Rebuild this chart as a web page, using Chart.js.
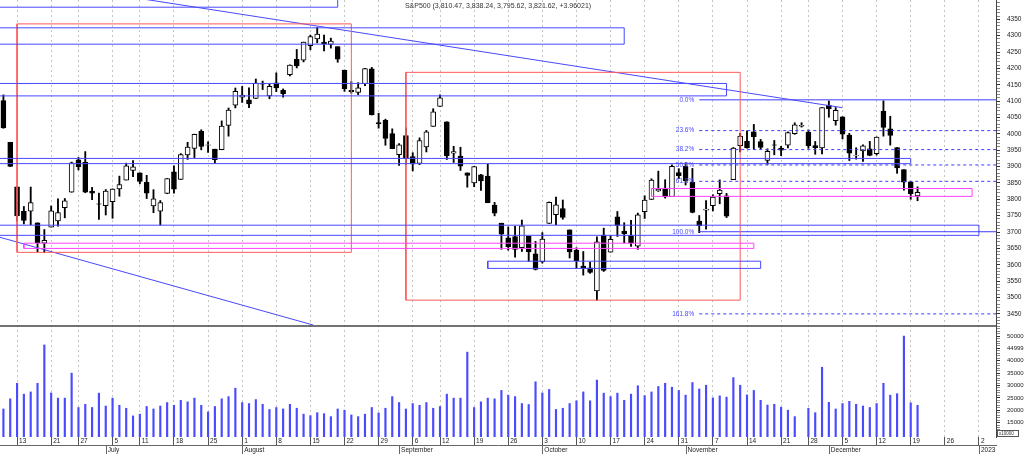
<!DOCTYPE html>
<html>
<head>
<meta charset="utf-8">
<title>S&amp;P500</title>
<script src="https://cdn.jsdelivr.net/npm/chart.js@4.4.1/dist/chart.umd.min.js"></script>
<style>
  html, body { margin: 0; padding: 0; background: #fff; overflow: hidden; }
</style>
</head>
<body>
<canvas id="spChart" width="1024" height="454"></canvas>
<script>
// trading days on the x axis (after 2022-12-20 these are empty future slots)
const dates = [
  "2022-06-09","2022-06-10",
  "2022-06-13","2022-06-14","2022-06-15","2022-06-16","2022-06-17",
  "2022-06-21","2022-06-22","2022-06-23","2022-06-24",
  "2022-06-27","2022-06-28","2022-06-29","2022-06-30","2022-07-01",
  "2022-07-05","2022-07-06","2022-07-07","2022-07-08",
  "2022-07-11","2022-07-12","2022-07-13","2022-07-14","2022-07-15",
  "2022-07-18","2022-07-19","2022-07-20","2022-07-21","2022-07-22",
  "2022-07-25","2022-07-26","2022-07-27","2022-07-28","2022-07-29",
  "2022-08-01","2022-08-02","2022-08-03","2022-08-04","2022-08-05",
  "2022-08-08","2022-08-09","2022-08-10","2022-08-11","2022-08-12",
  "2022-08-15","2022-08-16","2022-08-17","2022-08-18","2022-08-19",
  "2022-08-22","2022-08-23","2022-08-24","2022-08-25","2022-08-26",
  "2022-08-29","2022-08-30","2022-08-31","2022-09-01","2022-09-02",
  "2022-09-06","2022-09-07","2022-09-08","2022-09-09",
  "2022-09-12","2022-09-13","2022-09-14","2022-09-15","2022-09-16",
  "2022-09-19","2022-09-20","2022-09-21","2022-09-22","2022-09-23",
  "2022-09-26","2022-09-27","2022-09-28","2022-09-29","2022-09-30",
  "2022-10-03","2022-10-04","2022-10-05","2022-10-06","2022-10-07",
  "2022-10-10","2022-10-11","2022-10-12","2022-10-13","2022-10-14",
  "2022-10-17","2022-10-18","2022-10-19","2022-10-20","2022-10-21",
  "2022-10-24","2022-10-25","2022-10-26","2022-10-27","2022-10-28",
  "2022-10-31","2022-11-01","2022-11-02","2022-11-03","2022-11-04",
  "2022-11-07","2022-11-08","2022-11-09","2022-11-10","2022-11-11",
  "2022-11-14","2022-11-15","2022-11-16","2022-11-17","2022-11-18",
  "2022-11-21","2022-11-22","2022-11-23","2022-11-25",
  "2022-11-28","2022-11-29","2022-11-30","2022-12-01","2022-12-02",
  "2022-12-05","2022-12-06","2022-12-07","2022-12-08","2022-12-09",
  "2022-12-12","2022-12-13","2022-12-14","2022-12-15","2022-12-16",
  "2022-12-19","2022-12-20","2022-12-21","2022-12-22","2022-12-23",
  "2022-12-26","2022-12-27","2022-12-28","2022-12-29","2022-12-30",
  "2023-01-02","2023-01-03","2023-01-04"
];

const opens = [
  4101.65, 3974.39, 3838.15, 3763.52, 3764.05, 3728.18, 3665.90, 3715.31, 3733.89, 3774.71,
  3821.75, 3920.76, 3913.00, 3825.09, 3785.99, 3781.00, 3792.61, 3831.98, 3858.85, 3888.26,
  3880.94, 3851.95, 3779.67, 3763.99, 3818.00, 3883.79, 3860.73, 3935.32, 3955.47, 4007.77,
  3965.72, 3953.22, 3951.43, 4026.13, 4087.33, 4112.38, 4104.21, 4107.96, 4154.85, 4115.87,
  4155.93, 4133.11, 4181.02, 4227.40, 4225.02, 4269.37, 4290.46, 4280.40, 4273.13, 4266.31,
  4195.08, 4133.09, 4126.55, 4153.26, 4198.74, 4034.58, 4041.25, 4000.67, 3936.73, 3994.66,
  3930.89, 3909.43, 3959.94, 4022.94, 4083.67, 4037.12, 3940.73, 3932.41, 3880.95, 3849.91,
  3875.23, 3871.40, 3782.36, 3727.14, 3682.72, 3686.44, 3651.94, 3687.01, 3633.48, 3609.78,
  3726.46, 3753.25, 3771.97, 3706.74, 3644.79, 3595.86, 3590.83, 3520.37, 3690.41, 3638.65,
  3746.26, 3703.11, 3689.05, 3657.10, 3762.01, 3799.44, 3825.97, 3834.69, 3808.26, 3881.85,
  3901.79, 3852.90, 3733.25, 3766.98, 3780.71, 3817.02, 3810.94, 3859.89, 3963.72, 3977.97,
  4006.41, 3976.82, 3919.26, 3966.39, 3956.23, 3965.51, 4000.30, 4023.34, 4005.36, 3964.19,
  3957.18, 4087.14, 4040.17, 4052.02, 3996.63, 3933.28, 3947.79, 3954.17, 3939.29, 4069.38,
  4015.54, 3958.37, 3890.91, 3853.79, 3810.47
];
const highs = [
  4119.10, 3974.39, 3838.15, 3778.18, 3837.56, 3728.18, 3707.71, 3779.65, 3801.79, 3802.58,
  3913.65, 3927.72, 3945.86, 3836.50, 3818.99, 3829.82, 3832.19, 3870.91, 3910.63, 3918.50,
  3880.94, 3873.41, 3829.44, 3796.41, 3863.62, 3902.44, 3939.81, 3974.13, 3999.29, 4012.44,
  3975.30, 3953.22, 4039.56, 4078.95, 4140.15, 4144.95, 4140.47, 4167.66, 4161.29, 4151.58,
  4186.62, 4137.30, 4211.03, 4257.91, 4280.47, 4301.79, 4325.28, 4302.18, 4292.53, 4266.31,
  4195.08, 4159.77, 4156.56, 4200.54, 4203.04, 4062.99, 4044.98, 4015.37, 3970.23, 4018.43,
  3942.55, 3987.89, 4010.50, 4076.81, 4119.28, 4037.12, 3961.94, 3959.14, 3880.95, 3900.45,
  3876.01, 3907.07, 3790.68, 3727.14, 3715.67, 3717.53, 3736.74, 3687.01, 3671.44, 3698.35,
  3791.92, 3806.91, 3797.93, 3706.74, 3652.17, 3640.66, 3608.34, 3685.41, 3712.00, 3689.73,
  3762.79, 3728.58, 3736.00, 3757.89, 3810.74, 3862.85, 3886.15, 3859.95, 3905.42, 3893.73,
  3911.79, 3894.44, 3750.59, 3796.34, 3813.95, 3859.40, 3818.20, 3958.33, 4001.48, 4008.97,
  4028.84, 3983.09, 3954.33, 3979.89, 3962.00, 4005.88, 4033.78, 4034.02, 4012.27, 3976.77,
  4080.11, 4100.51, 4080.48, 4052.45, 4001.51, 3957.57, 3966.85, 3977.02, 3990.71, 4100.96,
  4053.76, 3958.37, 3890.91, 3854.86, 3838.24
];
const lows = [
  4017.17, 3900.16, 3734.30, 3724.87, 3722.30, 3639.77, 3636.87, 3715.31, 3717.69, 3743.52,
  3821.75, 3889.66, 3820.14, 3799.02, 3738.67, 3752.10, 3742.06, 3809.37, 3858.85, 3869.34,
  3847.22, 3802.36, 3759.07, 3721.56, 3817.18, 3818.63, 3860.73, 3922.03, 3927.64, 3951.17,
  3943.46, 3910.74, 3951.43, 3992.97, 4079.22, 4096.02, 4079.81, 4107.96, 4135.42, 4107.31,
  4128.97, 4112.09, 4177.26, 4201.41, 4219.78, 4256.90, 4277.77, 4253.08, 4261.98, 4218.70,
  4129.86, 4124.03, 4119.97, 4147.59, 4057.66, 4017.42, 3965.21, 3954.53, 3903.65, 3906.21,
  3886.75, 3906.03, 3944.81, 4022.94, 4083.67, 3921.73, 3912.73, 3888.28, 3837.08, 3838.50,
  3827.54, 3789.49, 3749.45, 3647.47, 3644.76, 3623.29, 3640.61, 3610.40, 3584.13, 3604.93,
  3726.46, 3722.66, 3739.22, 3620.73, 3588.10, 3568.45, 3573.86, 3491.58, 3579.68, 3638.65,
  3686.53, 3666.51, 3656.44, 3647.42, 3741.65, 3799.44, 3824.07, 3803.79, 3808.26, 3863.18,
  3843.80, 3758.68, 3698.15, 3708.84, 3764.70, 3786.28, 3744.22, 3859.89, 3944.82, 3956.40,
  3953.17, 3954.34, 3906.54, 3935.98, 3933.34, 3956.88, 3998.66, 4020.76, 3955.77, 3937.65,
  3938.58, 4050.87, 4026.63, 3984.49, 3918.39, 3922.68, 3916.00, 3933.04, 3935.30, 3993.03,
  3965.65, 3879.45, 3827.91, 3800.04, 3795.62
];
const closes = [
  4017.82, 3900.86, 3749.63, 3735.48, 3789.99, 3666.77, 3674.84, 3764.79, 3759.89, 3795.73,
  3911.74, 3900.11, 3821.55, 3818.83, 3785.38, 3825.33, 3831.39, 3845.08, 3902.62, 3899.38,
  3854.43, 3818.80, 3801.78, 3790.38, 3863.16, 3830.85, 3936.69, 3959.90, 3998.95, 3961.63,
  3966.84, 3921.05, 4023.61, 4072.43, 4130.29, 4118.63, 4091.19, 4155.17, 4151.94, 4145.19,
  4140.06, 4122.47, 4210.24, 4207.27, 4280.15, 4297.14, 4305.20, 4274.04, 4283.74, 4228.48,
  4137.99, 4128.73, 4140.77, 4199.12, 4057.66, 4030.61, 3986.16, 3955.00, 3966.85, 3924.26,
  3908.19, 3979.87, 4006.18, 4067.36, 4110.41, 3932.69, 3946.01, 3901.35, 3873.33, 3899.89,
  3855.93, 3789.93, 3757.99, 3693.23, 3655.04, 3647.29, 3719.04, 3640.47, 3585.62, 3678.43,
  3790.93, 3783.28, 3744.52, 3639.66, 3612.39, 3588.84, 3577.03, 3669.91, 3583.07, 3677.95,
  3719.98, 3695.16, 3665.78, 3752.75, 3797.34, 3859.11, 3830.60, 3807.30, 3901.06, 3871.98,
  3856.10, 3759.69, 3719.89, 3770.55, 3806.80, 3828.11, 3748.57, 3956.37, 3992.93, 3957.25,
  3991.73, 3958.79, 3946.56, 3965.34, 3949.94, 4003.58, 4027.26, 4026.12, 3963.94, 3957.63,
  4080.11, 4076.57, 4071.70, 3998.84, 3941.26, 3933.92, 3963.51, 3934.38, 3990.56, 4019.65,
  3995.32, 3895.75, 3852.36, 3817.66, 3821.62
];
// volume in units of 10000
const volumes = [
  20500, 24600, 30900, 26500, 27400, 30900, 46400, 27000, 24900, 24900,
  35000, 21100, 22400, 21100, 26900, 21700, 24900, 22000, 20800, 17700,
  18400, 21500, 20500, 21700, 23100, 22000, 24000, 23400, 24900, 22000,
  19300, 21500, 24600, 25500, 28900, 23100, 22700, 24300, 22400, 20300,
  21100, 20500, 22400, 20800, 18400, 17800, 19000, 18600, 17400, 20500,
  20000, 18100, 17400, 18400, 21100, 18900, 20800, 25500, 23100, 20500,
  22700, 22000, 23100, 20800, 21500, 26500, 24900, 24900, 43500, 21100,
  23400, 24900, 24600, 28000, 26100, 25500, 22700, 22300, 31500, 27000,
  28400, 20300, 20800, 22700, 23800, 27400, 23800, 32200, 26900, 25500,
  26900, 24000, 26500, 29900, 25900, 27400, 29600, 30900, 29300, 28000,
  26100, 31200, 28600, 30100, 25000, 25800, 25300, 33200, 30100, 26200,
  28000, 24000, 22100, 22400, 21200, 20000, 17400, 8000, 20800, 19000,
  37400, 23200, 20500, 22700, 23600, 22400, 21700, 21100, 22700, 30900,
  26100, 26700, 50000, 23000, 22000
];

const titleText = "S&P500 (3,810.47, 3,838.24, 3,795.62, 3,821.62, +3.96021)";
const monthNames = ["January", "February", "March", "April", "May", "June", "July",
  "August", "September", "October", "November", "December"];
const priceLabels = [3450, 3500, 3550, 3600, 3650, 3700, 3750, 3800, 3850, 3900,
  3950, 4000, 4050, 4100, 4150, 4200, 4250, 4300, 4350];
const volTicks = [15000, 20000, 25000, 30000, 35000, 40000, 45000, 50000];
const volTickLabels = ["15000", "20000", "25000", "30000", "35000", "40000", "44999", "50000"];

// drawing objects: [fromIndex, toIndex, lowPrice, highPrice]
const blueZones = [
  [-3, 49, 4387, 4440],
  [-3, 91, 4274, 4324],
  [-3, 106, 4116, 4154],
  [-3, 133, 3909, 3925],
  [-3, 143, 3690, 3721],
  [71, 111, 3589, 3611]
];
const pinkZones = [
  [3, 110, 3650, 3666],
  [95, 142, 3809, 3833]
];
const redBoxes = [
  [2, 51, 3638, 4336],
  [59, 108, 3492, 4188]
];
// trend lines: [fromIndex, fromPrice, toIndex, toPrice]
const trendLines = [
  [-0.5, 4480, 123, 4080],
  [-0.5, 3684, 45.4, 3416]
];
// fibonacci retracement
const fibRatios = [0, 23.6, 38.2, 50, 61.8, 100, 161.8];
const fibPrices = [4104, 4010, 3952, 3905, 3855, 3701, 3450];
const fibFrom = 102;

// ---- x axis ticks: first trading day of each week / month ----
const xTickInfo = {};
dates.forEach((d, i) => {
  if (i === 0) return;
  const cur = new Date(d + "T00:00:00Z");
  const prev = new Date(dates[i - 1] + "T00:00:00Z");
  const newWeek = cur.getUTCDay() <= prev.getUTCDay();
  const newMonth = cur.getUTCMonth() !== prev.getUTCMonth();
  if (!newWeek && !newMonth) return;
  let month = "";
  if (newMonth) {
    month = cur.getUTCMonth() === 0 ? String(cur.getUTCFullYear()) : monthNames[cur.getUTCMonth()];
  }
  xTickInfo[i] = { week: newWeek ? String(cur.getUTCDate()) : "", month };
});
const xTickValues = Object.keys(xTickInfo).map(Number);
const isWeekTick = (v) => xTickInfo[v] && xTickInfo[v].week !== "";

const priceMinor = [];
for (let v = 3420; v <= 4400; v += 10) priceMinor.push(v);
const volMinor = [];
for (let v = 12000; v <= 54000; v += 1000) volMinor.push(v);

// ---- datasets ----
const BLUE = "#4848ff";
const PINK = "#ff44ff";
const RED = "#ff5a5a";

function boxPath(z) {
  const [x1, x2, lo, hi] = z;
  return [{ x: x1, y: lo }, { x: x2, y: lo }, { x: x2, y: hi }, { x: x1, y: hi }, { x: x1, y: lo }];
}

function lineSet(data, color, dash) {
  return {
    type: "line",
    data,
    yAxisID: "y",
    borderColor: color,
    borderWidth: 1,
    borderDash: dash || [],
    pointRadius: 0,
    fill: false,
    tension: 0,
    order: 0,
  };
}

const drawn = [];
blueZones.forEach((z) => drawn.push(lineSet(boxPath(z), BLUE)));
pinkZones.forEach((z) => drawn.push(lineSet(boxPath(z), PINK)));
redBoxes.forEach((z) => drawn.push(lineSet(boxPath(z), RED)));
trendLines.forEach((t) => drawn.push(lineSet([{ x: t[0], y: t[1] }, { x: t[2], y: t[3] }], BLUE)));
fibPrices.forEach((p, k) => {
  const solid = fibRatios[k] === 0 || fibRatios[k] === 100;
  drawn.push(lineSet([{ x: fibFrom, y: p }, { x: 150, y: p }], "#3c3cff", solid ? [] : [3, 3]));
});

const bodies = opens.map((o, i) => ({ x: i, y: [o, closes[i]] }));
const wicks = lows.map((l, i) => ({ x: i, y: [l, highs[i]] }));
const volBars = volumes.map((v, i) => ({ x: i, y: v }));

// ---- extra drawing: separators, month ticks, title, fib labels ----
const overlay = {
  id: "overlay",
  afterDraw(chart) {
    const { ctx } = chart;
    const { x, y, yv } = chart.scales;
    ctx.save();

    // line between price and volume panes
    ctx.strokeStyle = "#444";
    ctx.lineWidth = 1.5;
    ctx.beginPath();
    ctx.moveTo(0, Math.round(yv.top));
    ctx.lineTo(y.left + 1, Math.round(yv.top));
    ctx.stroke();

    // line under the day numbers and the month ticks
    const base = Math.round(x.top + 8) + 0.5;
    ctx.strokeStyle = "#666";
    ctx.lineWidth = 1;
    ctx.beginPath();
    ctx.moveTo(0, base);
    ctx.lineTo(y.left + 1, base);
    xTickValues.forEach((v) => {
      if (!xTickInfo[v].month) return;
      const px = Math.round(x.getPixelForValue(v)) + 0.5;
      ctx.moveTo(px, base);
      ctx.lineTo(px, chart.height);
    });
    ctx.stroke();

    // unit box of the volume axis
    ctx.strokeStyle = "#555";
    ctx.strokeRect(yv.left + 1.5, yv.bottom - 6.5, 21, 6);
    ctx.fillStyle = "#333";
    ctx.font = "4.5px 'Liberation Sans', Arial, sans-serif";
    ctx.textAlign = "left";
    ctx.textBaseline = "middle";
    ctx.fillText("x10000", yv.left + 3, yv.bottom - 3.5);

    // title
    ctx.font = "7px 'Liberation Sans', Arial, sans-serif";
    ctx.textAlign = "center";
    ctx.fillStyle = "#333";
    ctx.fillText(titleText, 498, 6);

    // fibonacci labels
    ctx.font = "6.5px 'Liberation Sans', Arial, sans-serif";
    ctx.textAlign = "right";
    ctx.fillStyle = "#4b4bff";
    const fx = x.getPixelForValue(fibFrom) - 5;
    fibPrices.forEach((p, k) => {
      ctx.fillText(fibRatios[k].toFixed(1) + "%", fx, y.getPixelForValue(p));
    });
    ctx.restore();
  },
};

Chart.defaults.font.family = "'Liberation Sans', Arial, sans-serif";
Chart.defaults.font.size = 6.5;
Chart.defaults.color = "#333";

new Chart(document.getElementById("spChart"), {
  type: "bar",
  data: {
    datasets: [
      ...drawn,
      {
        label: "body",
        data: bodies,
        yAxisID: "y",
        backgroundColor: opens.map((o, i) => (closes[i] >= o ? "#ffffff" : "#000000")),
        borderColor: "#000000",
        borderWidth: 1,
        borderSkipped: false,
        barThickness: 5,
        grouped: false,
        order: 1,
      },
      {
        label: "wick",
        data: wicks,
        yAxisID: "y",
        backgroundColor: "#000000",
        barThickness: 1.2,
        grouped: false,
        order: 2,
      },
      {
        label: "volume",
        data: volBars,
        yAxisID: "yv",
        backgroundColor: "#4a4aff",
        barThickness: 1.5,
        grouped: false,
        clip: 0,
        order: 3,
      },
    ],
  },
  options: {
    responsive: false,
    animation: false,
    layout: { padding: 0, autoPadding: false },
    plugins: { legend: { display: false }, tooltip: { enabled: false }, title: { display: false } },
    scales: {
      x: {
        type: "linear",
        min: -0.5,
        max: 145.5,
        offset: false,
        afterBuildTicks: (s) => { s.ticks = xTickValues.map((v) => ({ value: v })); },
        afterFit: (s) => { s.height = 17; s.paddingLeft = 0; s.paddingRight = 0; },
        ticks: {
          autoSkip: false,
          maxRotation: 0,
          align: "start",
          labelOffset: 2,
          padding: -8,
          font: { size: 6.5, lineHeight: 1.4 },
          color: "#222",
          callback: (v) => {
            const t = xTickInfo[v];
            if (!t) return "";
            return t.month ? [t.week, t.month] : t.week;
          },
        },
        grid: {
          offset: false,
          drawTicks: true,
          tickLength: 8,
          tickWidth: 1,
          tickBorderDash: [],
          color: (c) => (c.tick && isWeekTick(c.tick.value) ? "#c4c4c4" : "rgba(0,0,0,0)"),
          tickColor: (c) => (c.tick && isWeekTick(c.tick.value) ? "#555" : "rgba(0,0,0,0)"),
        },
        border: { display: false, dash: [2, 3] },
      },
      y: {
        type: "linear",
        position: "right",
        stack: "panes",
        stackWeight: 326,
        min: 3413,
        max: 4409,
        beginAtZero: false,
        afterBuildTicks: (s) => { s.ticks = priceMinor.map((v) => ({ value: v })); },
        afterFit: (s) => { s.width = 28; s.paddingTop = 0; s.paddingBottom = 0; },
        ticks: {
          autoSkip: false,
          padding: 7,
          font: { size: 6.5 },
          color: "#222",
          callback: (v) => (priceLabels.includes(v) ? String(v) : ""),
        },
        grid: {
          drawOnChartArea: false,
          drawTicks: true,
          tickLength: 4,
          color: "#444",
          tickColor: (c) => (c.tick && priceLabels.includes(c.tick.value) ? "#333" : "#888"),
        },
        border: { display: true, color: "#444", width: 1 },
      },
      yv: {
        type: "linear",
        position: "right",
        stack: "panes",
        stackWeight: 111,
        min: 9160,
        max: 54080,
        beginAtZero: false,
        afterBuildTicks: (s) => { s.ticks = volMinor.map((v) => ({ value: v })); },
        afterFit: (s) => { s.width = 28; s.paddingTop = 0; s.paddingBottom = 0; },
        ticks: {
          autoSkip: false,
          padding: 7,
          font: { size: 6 },
          color: "#222",
          callback: (v) => {
            const k = volTicks.indexOf(v);
            return k >= 0 ? volTickLabels[k] : "";
          },
        },
        grid: {
          drawOnChartArea: false,
          drawTicks: true,
          tickLength: 4,
          color: "#444",
          tickColor: (c) => (c.tick && volTicks.includes(c.tick.value) ? "#333" : "#888"),
        },
        border: { display: true, color: "#444", width: 1 },
      },
    },
  },
  plugins: [overlay],
});
</script>
</body>
</html>
